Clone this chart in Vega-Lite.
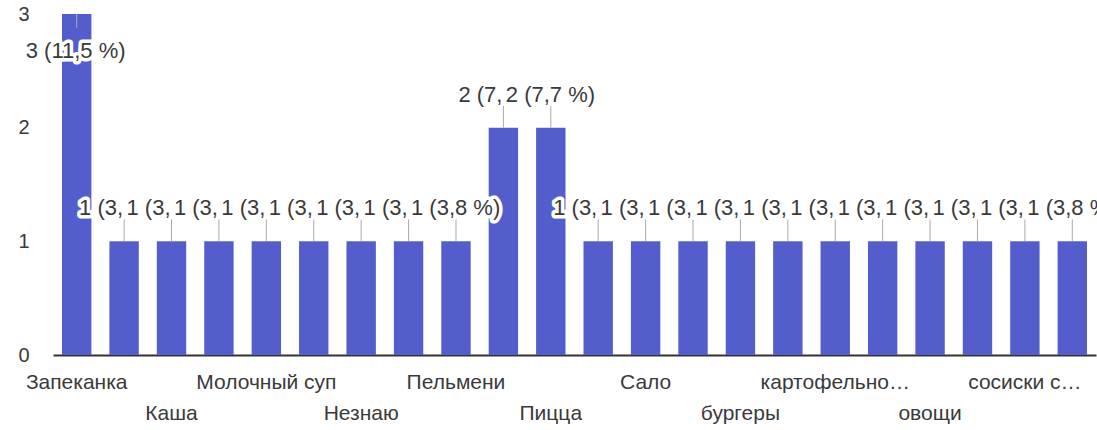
{
  "$schema": "https://vega.github.io/schema/vega-lite/v6.json",
  "autosize": {"type": "none"},
  "padding": {"left": 53, "top": 14, "right": 1, "bottom": 75},
  "width": 1043,
  "height": 341,
  "background": "white",
  "config": {"view": {"stroke": null}},
  "data": {
    "values": [
      {"cat": "Запеканка", "value": 3, "label": "3 (11,5 %)"},
      {"cat": "Картошка", "value": 1, "label": "1 (3,8 %)"},
      {"cat": "Каша", "value": 1, "label": "1 (3,8 %)"},
      {"cat": "Котлеты", "value": 1, "label": "1 (3,8 %)"},
      {"cat": "Молочный суп", "value": 1, "label": "1 (3,8 %)"},
      {"cat": "Мясо", "value": 1, "label": "1 (3,8 %)"},
      {"cat": "Незнаю", "value": 1, "label": "1 (3,8 %)"},
      {"cat": "Омлет", "value": 1, "label": "1 (3,8 %)"},
      {"cat": "Пельмени", "value": 1, "label": "1 (3,8 %)"},
      {"cat": "Пирожки", "value": 2, "label": "2 (7,7 %)"},
      {"cat": "Пицца", "value": 2, "label": "2 (7,7 %)"},
      {"cat": "Рыба", "value": 1, "label": "1 (3,8 %)"},
      {"cat": "Сало", "value": 1, "label": "1 (3,8 %)"},
      {"cat": "Суп", "value": 1, "label": "1 (3,8 %)"},
      {"cat": "бургеры", "value": 1, "label": "1 (3,8 %)"},
      {"cat": "гречка", "value": 1, "label": "1 (3,8 %)"},
      {"cat": "картофельно…", "value": 1, "label": "1 (3,8 %)"},
      {"cat": "макароны", "value": 1, "label": "1 (3,8 %)"},
      {"cat": "овощи", "value": 1, "label": "1 (3,8 %)"},
      {"cat": "рис", "value": 1, "label": "1 (3,8 %)"},
      {"cat": "сосиски с…", "value": 1, "label": "1 (3,8 %)"},
      {"cat": "фрукты", "value": 1, "label": "1 (3,8 %)"}
    ]
  },
  "encoding": {
    "x": {
      "field": "cat",
      "type": "nominal",
      "sort": null,
      "scale": {"paddingInner": 0.38, "paddingOuter": 0.19},
      "axis": {
        "title": null,
        "labelAngle": 0,
        "ticks": false,
        "domainColor": "#333333",
        "domainWidth": 2,
        "labelOverlap": false,
        "labelLimit": 200,
        "labelFont": "Liberation Sans",
        "labelFontSize": 21,
        "labelColor": "#3a3a3a",
        "labelBaseline": "middle",
        "labelExpr": "round(datum.index * 21) % 2 == 1 ? '' : datum.label",
        "labelPadding": {"condition": {"test": "round(datum.index * 21) % 4 == 2", "value": 58}, "value": 27}
      }
    },
    "y": {
      "field": "value",
      "type": "quantitative",
      "scale": {"domain": [0, 3], "nice": false},
      "axis": {
        "title": null,
        "values": [0, 1, 2, 3],
        "grid": false,
        "domain": false,
        "ticks": false,
        "labelPadding": 24,
        "labelFont": "Liberation Sans",
        "labelFontSize": 20,
        "labelColor": "#3a3a3a"
      }
    }
  },
  "layer": [
    {"mark": {"type": "bar", "color": "#545dcc"}},
    {
      "mark": {
        "type": "rule",
        "color": "#aaaaaa",
        "strokeWidth": 1,
        "y2Offset": {"expr": "datum.value >= 3 ? 14 : -22"}
      },
      "encoding": {"y2": {"field": "value"}}
    },
    {
      "transform": [{"window": [{"op": "lead", "field": "value", "as": "next"}]}],
      "mark": {
        "type": "text",
        "align": "left",
        "baseline": "middle",
        "font": "Liberation Sans",
        "fontSize": 22,
        "stroke": "white",
        "strokeWidth": 7,
        "strokeJoin": "round",
        "fill": "white",
        "ellipsis": "\u200b",
        "dx": {"expr": "datum.value >= 3 ? -51 : -45"},
        "dy": {"expr": "datum.value >= 3 ? 37 : -33"},
        "limit": {"expr": "datum.next === datum.value ? 47 : 0"}
      },
      "encoding": {"text": {"field": "label"}}
    },
    {
      "transform": [{"window": [{"op": "lead", "field": "value", "as": "next"}]}],
      "mark": {
        "type": "text",
        "align": "left",
        "baseline": "middle",
        "font": "Liberation Sans",
        "fontSize": 22,
        "color": "#3a3a3a",
        "ellipsis": "\u200b",
        "dx": {"expr": "datum.value >= 3 ? -51 : -45"},
        "dy": {"expr": "datum.value >= 3 ? 37 : -33"},
        "limit": {"expr": "datum.next === datum.value ? 47 : 0"}
      },
      "encoding": {"text": {"field": "label"}}
    }
  ]
}
